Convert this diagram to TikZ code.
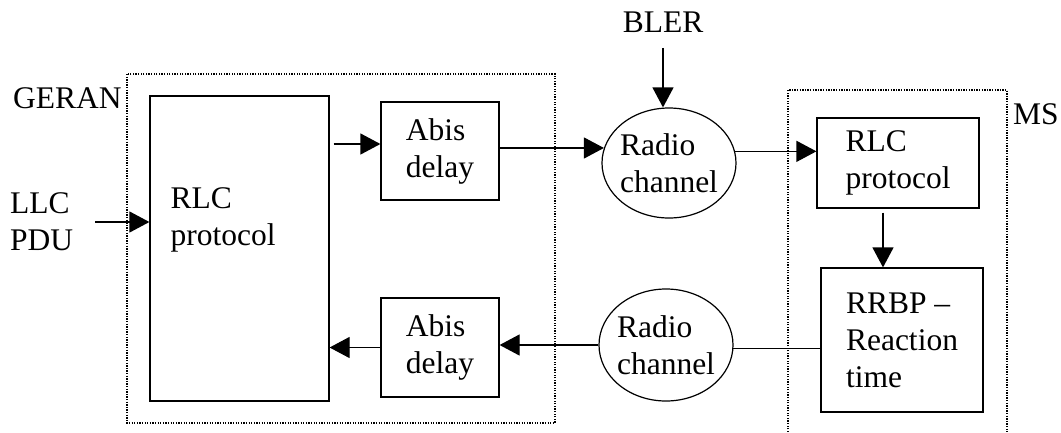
\documentclass[tikz,border=0pt]{standalone}
\usepackage{fontspec}
\setmainfont{Liberation Serif}
\usepackage{tikz}
\usetikzlibrary{arrows.meta,positioning,shapes.geometric,calc}
\newcommand{\diagfont}{\fontsize{31.5}{37}\selectfont}

\begin{document}
\begin{tikzpicture}[x=1pt, y=-1pt,
		every node/.style={font=\diagfont},
		block/.style={rectangle, draw, line width=1.2pt, align=left, inner sep=0pt},
		chan/.style={ellipse, draw, line width=1.2pt, align=left, inner sep=0pt, inner xsep=-3pt},
		flow/.style={line width=1.2pt, -{Triangle[length=20pt,width=21pt]}},
		frame/.style={line width=1.3pt, dash pattern=on 1.3pt off 1.3pt}]
	\useasboundingbox (0,0) rectangle (1061,432);
	
	% network side
	\node (geranlbl) [anchor=west, inner sep=0pt] at (13,98) {GERAN};
	\node (llcpdu) [anchor=west, inner sep=0pt, align=left] at (10,222) {LLC\\PDU};
	\node (geranrlc) [block, minimum width=179pt, minimum height=305pt] at (239.5,248.5) {};
	\node (geranrlctxt) [below right=92pt and 21pt of geranrlc.north west, inner sep=0pt, align=left] {RLC\\protocol};
	\node (abisup) [block, minimum width=118pt, minimum height=98pt] at (440,151) {Abis\\delay};
	\node (abisdn) [block, minimum width=118pt, minimum height=99pt] at (440,347.5) {Abis\\delay};
	\draw [frame] (127,74) rectangle (555,423);
	
	% air interface
	\node (bler) at (663,22) {BLER};
	\node (radioup) [chan, minimum width=134pt, minimum height=110pt] at (669,163) {Radio\\channel};
	\node (radiodn) [chan, minimum width=134pt, minimum height=112pt] at (666,345) {Radio\\channel};
	
	% mobile side
	\node (mslbl) [anchor=west, inner sep=0pt] at (1013,114) {MS};
	\node (msrlc) [block, minimum width=162pt, minimum height=90pt] at (898,163) {RLC\\protocol};
	\node (rrbp) [block, minimum width=162pt, minimum height=144pt] at (902,340) {RRBP –\\Reaction\\time};
	\draw [frame] (788,432) -- (788,90) -- (1007,90) -- (1007,432);
	
	\coordinate (rlcout) at ($(geranrlc.east |- abisup.west)+(4,-7)$);
	\coordinate (msdown) at ($(msrlc.south)+(-15,4)$);
	
	\draw [flow] ([xshift=22pt]llcpdu.east) -- (geranrlc.west |- llcpdu);
	\draw [flow] (rlcout) -- (rlcout -| abisup.west);
	\draw [flow] (abisup.east |- radioup.167) -- (radioup.167);
	\draw [flow, shorten <=12pt] (bler) -- (bler |- radioup.north);
	\draw [flow] (radioup.10) -- (radioup.10 -| msrlc.west);
	\draw [flow] (msdown) -- (msdown |- rrbp.north);
	\draw [line width=1.2pt] (rrbp.west |- radiodn.-3) -- (radiodn.-3);
	\draw [flow] (radiodn.west) -- (radiodn.west -| abisdn.east);
	\draw [flow] (abisdn.west) -- (abisdn.west -| geranrlc.east);
\end{tikzpicture}
\end{document}
